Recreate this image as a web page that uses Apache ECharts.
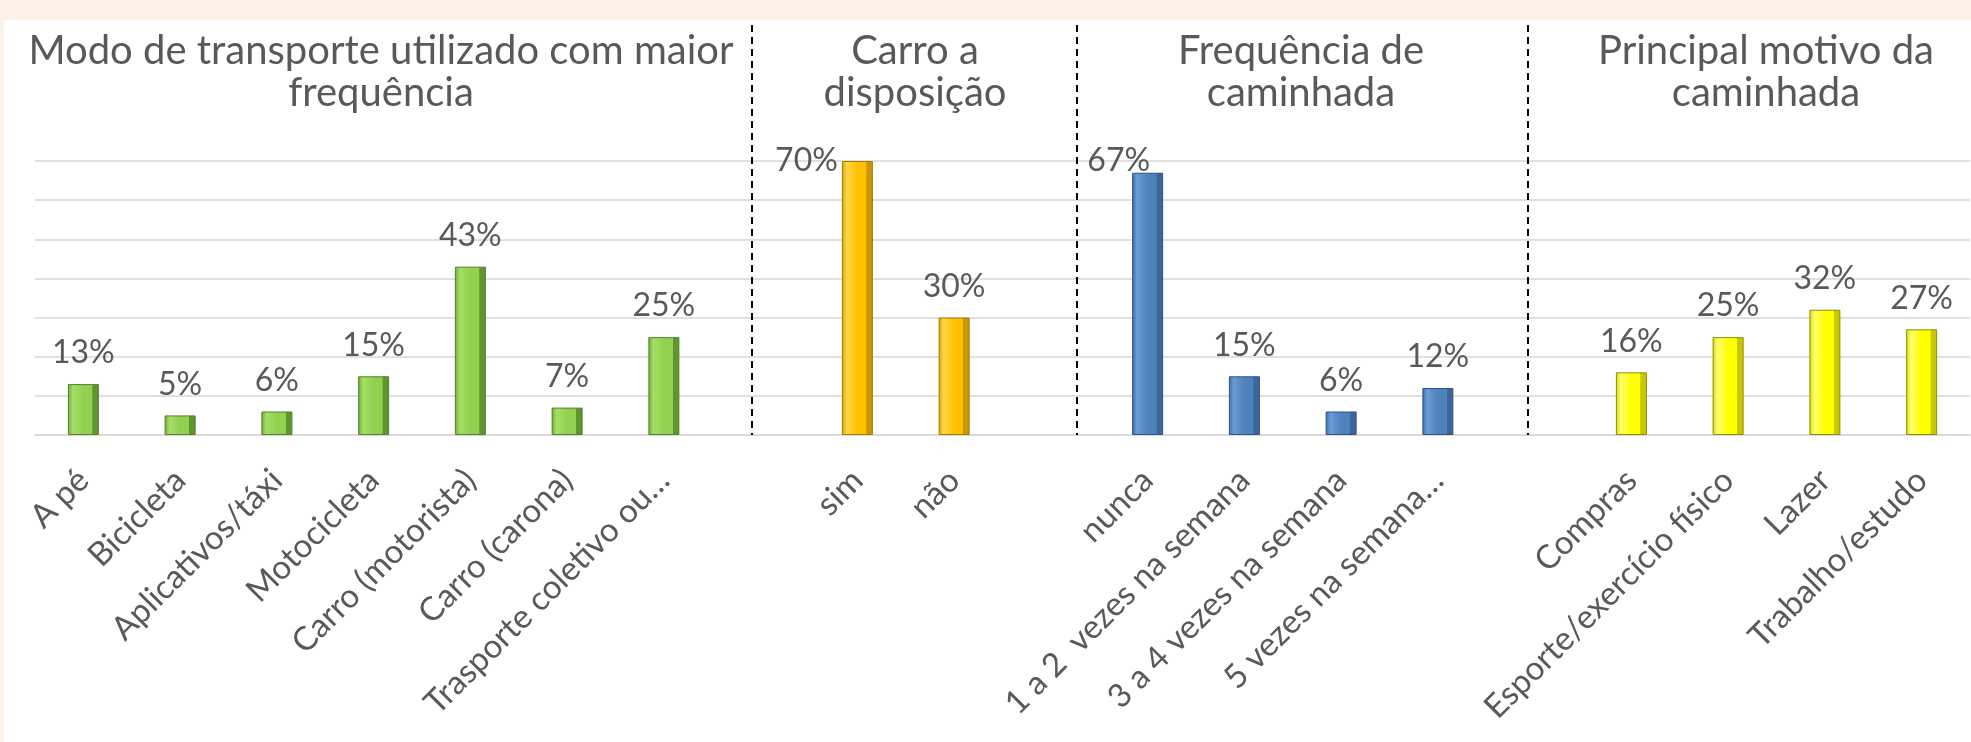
<!DOCTYPE html>
<html>
<head>
<meta charset="utf-8">
<script src="https://cdn.jsdelivr.net/npm/echarts@6/dist/echarts.min.js"></script>
<style>
  html, body { margin: 0; padding: 0; background: #fcf1e6; }
  #chart { position: absolute; left: 4px; top: 20px; width: 1967px; height: 722px; background: #fff; }
</style>
</head>
<body>
<div id="chart"></div>
<script>
// 分组数据
const modoCats = ["A pé", "Bicicleta", "Aplicativos/táxi", "Motocicleta", "Carro (motorista)", "Carro (carona)", "Trasporte coletivo ou…"];
const modoVals = [13, 5, 6, 15, 43, 7, 25];
const carroCats = ["sim", "não"];
const carroVals = [70, 30];
const freqCats = ["nunca", "1 a 2  vezes na semana", "3 a 4 vezes na semana", "5 vezes na semana…"];
const freqVals = [67, 15, 6, 12];
const motivoCats = ["Compras", "Esporte/exercício físico", "Lazer", "Trabalho/estudo"];
const motivoVals = [16, 25, 32, 27];
const yTicks = [0, 10, 20, 30, 40, 50, 60, 70];

const FONT = "Lato";
const TXT = "#595959";

const groups = [
  { title: "Modo de transporte utilizado com maior\nfrequência", cats: modoCats, vals: modoVals,
    colors: ["#6fa83a", "#a4df66", "#92d050", "#5f9530", "#557f2c"] },
  { title: "Carro a\ndisposição", cats: carroCats, vals: carroVals,
    colors: ["#d9a300", "#ffd54a", "#ffc000", "#c99700", "#a47c00"] },
  { title: "Frequência de\ncaminhada", cats: freqCats, vals: freqVals,
    colors: ["#3f6ea6", "#6d9bd5", "#4f81bd", "#3b6699", "#2e5283"] },
  { title: "Principal motivo da\ncaminhada", cats: motivoCats, vals: motivoVals,
    colors: ["#d9d900", "#ffff70", "#ffff00", "#c8c800", "#8f8f00"] }
];

// 拼接类目（组间留空位）
let categories = [];
let offsets = [];
groups.forEach((g, i) => {
  if (i > 0) categories.push(" ".repeat(i));
  offsets.push(categories.length);
  categories = categories.concat(g.cats);
});

function bevel(c) {
  return {
    type: "linear", x: 0, y: 0, x2: 1, y2: 0,
    colorStops: [
      { offset: 0, color: c[0] },
      { offset: 0.16, color: c[1] },
      { offset: 0.5, color: c[2] },
      { offset: 0.78, color: c[2] },
      { offset: 0.8, color: c[3] },
      { offset: 1, color: c[3] }
    ]
  };
}

// 特殊标签位置（超出绘图区时 Excel 会移位）
const specialLabels = {
  70: { position: [-4, 0], align: "right", verticalAlign: "middle" },
  67: { position: [18, -12], align: "right", verticalAlign: "middle" }
};

const series = groups.map((g, gi) => {
  const data = categories.map(() => "-");
  g.vals.forEach((v, k) => {
    const item = { value: v };
    if ((gi === 1 && k === 0) || (gi === 2 && k === 0)) {
      item.label = specialLabels[v];
    }
    data[offsets[gi] + k] = item;
  });
  return {
    type: "bar",
    data: data,
    barWidth: 31,
    barGap: "-100%",
    itemStyle: { color: bevel(g.colors), borderColor: g.colors[4], borderWidth: 1 },
    label: {
      show: true,
      position: "top",
      distance: 15,
      formatter: "{c}%",
      fontFamily: FONT,
      fontSize: 32,
      color: TXT
    },
    emphasis: { disabled: true }
  };
});

const titleX = [377, 911, 1297, 1762];
const titles = groups.map((g, i) => ({
  text: g.title,
  left: titleX[i],
  top: 10,
  padding: 0,
  textAlign: "center",
  textStyle: { fontFamily: FONT, fontSize: 40, fontWeight: "normal", color: TXT, lineHeight: 42 }
}));

// 分隔虚线
const sepX = [748, 1073, 1524];
const graphic = sepX.map(x => ({
  type: "line",
  shape: { x1: x, y1: 5, x2: x, y2: 415 },
  style: { stroke: "#000", lineWidth: 2, lineDash: [7, 5] },
  z: 10
}));

const chart = echarts.init(document.getElementById("chart"));
chart.setOption({
  animation: false,
  backgroundColor: "#fff",
  title: titles,
  graphic: graphic,
  grid: { left: 31, right: 1, top: 141, bottom: 307 },
  xAxis: {
    type: "category",
    data: categories,
    axisLine: { show: true, lineStyle: { color: "#d9d9d9", width: 2 } },
    axisTick: { show: false },
    axisLabel: {
      interval: 0,
      rotate: 45,
      margin: 40,
      fontFamily: FONT,
      fontSize: 33,
      color: TXT
    }
  },
  yAxis: {
    type: "value",
    min: yTicks[0],
    max: yTicks[yTicks.length - 1],
    interval: yTicks[1] - yTicks[0],
    axisLabel: { show: false },
    axisLine: { show: false },
    axisTick: { show: false },
    splitLine: { lineStyle: { color: "#e0e0e0", width: 2 } }
  },
  series: series
});
</script>
</body>
</html>
